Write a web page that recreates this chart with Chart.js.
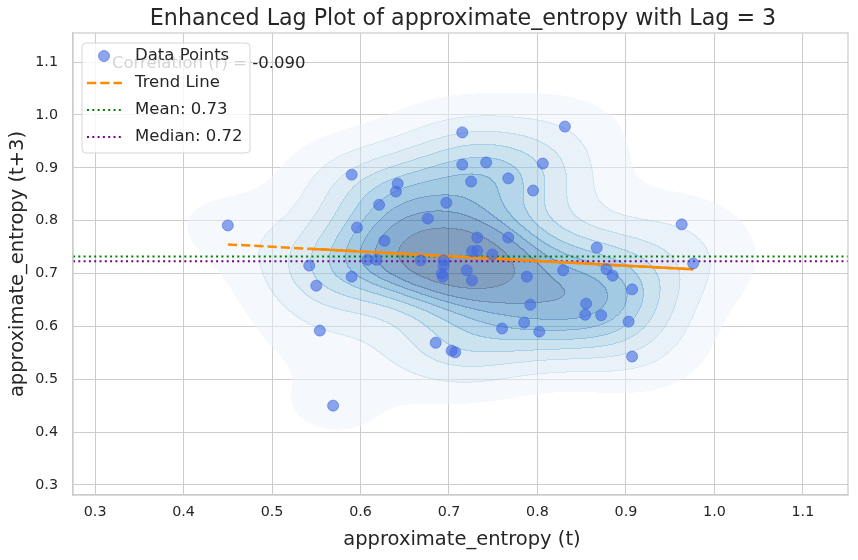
<!DOCTYPE html>
<html>
<head>
<meta charset="utf-8">
<script src="https://cdn.jsdelivr.net/npm/chart.js@4.4.0/dist/chart.umd.min.js"></script>
<style>html,body{margin:0;padding:0;background:#fff}</style>
</head>
<body>
<canvas id="lagChart" width="858" height="560"></canvas>
<script>
// values: x = value at t, y = value at t+3
const lagX = [0.450, 0.542, 0.550, 0.554, 0.569, 0.590, 0.596, 0.590, 0.608, 0.618,
              0.621, 0.627, 0.642, 0.640, 0.668, 0.676, 0.685, 0.692, 0.693, 0.694,
              0.694, 0.697, 0.703, 0.707, 0.715, 0.715, 0.720, 0.725, 0.726, 0.726,
              0.732, 0.732, 0.742, 0.749, 0.760, 0.767, 0.767, 0.785, 0.788, 0.792,
              0.795, 0.802, 0.806, 0.829, 0.831, 0.854, 0.855, 0.867, 0.872, 0.878,
              0.885, 0.903, 0.907, 0.907, 0.963, 0.976];
const lagY = [0.791, 0.715, 0.677, 0.592, 0.450, 0.887, 0.787, 0.694, 0.726, 0.726,
              0.830, 0.762, 0.870, 0.855, 0.725, 0.804, 0.569, 0.700, 0.694, 0.725,
              0.715, 0.834, 0.554, 0.551, 0.967, 0.906, 0.706, 0.874, 0.742, 0.687,
              0.743, 0.768, 0.910, 0.736, 0.596, 0.880, 0.768, 0.607, 0.694, 0.641,
              0.857, 0.590, 0.908, 0.706, 0.978, 0.622, 0.643, 0.749, 0.621, 0.708,
              0.696, 0.609, 0.670, 0.543, 0.793, 0.719];

const xTicks = [0.3, 0.4, 0.5, 0.6, 0.7, 0.8, 0.9, 1.0, 1.1];
const yTicks = [0.3, 0.4, 0.5, 0.6, 0.7, 0.8, 0.9, 1.0, 1.1];
const xRange = [0.275, 1.151];
const yRange = [0.281, 1.155];

const meanValue = 0.732;
const medianValue = 0.723;
const correlationText = 'Correlation (r) = -0.090';
const titleText = 'Enhanced Lag Plot of approximate_entropy with Lag = 3';
const xLabel = 'approximate_entropy (t)';
const yLabel = 'approximate_entropy (t+3)';
const legendLabels = ['Data Points', 'Trend Line', 'Mean: 0.73', 'Median: 0.72'];

const FONT = "'DejaVu Sans', sans-serif";
const TEXT = '#262626';
const GRID = '#cccccc';

// least squares trend
const n = lagX.length;
const mx = lagX.reduce((a, b) => a + b, 0) / n;
const my = lagY.reduce((a, b) => a + b, 0) / n;
let sxy = 0, sxx = 0, syy = 0;
for (let i = 0; i < n; i++) {
    sxy += (lagX[i] - mx) * (lagY[i] - my);
    sxx += (lagX[i] - mx) ** 2;
    syy += (lagY[i] - my) ** 2;
}
const slope = sxy / sxx;
const intercept = my - slope * mx;
const sortedX = [...lagX].sort((a, b) => a - b);
const trendAt = x => ({ x: x, y: intercept + slope * x });

// Blues colormap anchors
const blues = [[247,251,255],[222,235,247],[198,219,239],[158,202,225],[107,174,214],
               [66,146,198],[33,113,181],[8,81,156],[8,48,107]];
function bluesAt(t) {
    const p = Math.max(0, Math.min(1, t)) * (blues.length - 1);
    const i = Math.min(Math.floor(p), blues.length - 2), f = p - i;
    return blues[i].map((c, k) => c + (blues[i + 1][k] - c) * f);
}

// gaussian kde (scott) drawn as filled iso-proportion bands
const kdePlugin = {
    id: 'kde',
    beforeDatasetsDraw(chart) {
        const area = chart.chartArea, xs = chart.scales.x, ys = chart.scales.y;
        const left = Math.round(area.left), top = Math.round(area.top);
        const W = Math.round(area.right) - left, H = Math.round(area.bottom) - top;

        const f2 = Math.pow(n, -1 / 3);
        const cxx = sxx / (n - 1) * f2, cyy = syy / (n - 1) * f2, cxy = sxy / (n - 1) * f2;
        const det = cxx * cyy - cxy * cxy;
        const ixx = cyy / det, iyy = cxx / det, ixy = -cxy / det;

        const step = 2;
        const gw = Math.ceil(W / step) + 2, gh = Math.ceil(H / step) + 2;
        const dens = new Float64Array(gw * gh);
        for (let j = 0; j < gh; j++) {
            const vy = ys.getValueForPixel(top + j * step);
            for (let i = 0; i < gw; i++) {
                const vx = xs.getValueForPixel(left + i * step);
                let s = 0;
                for (let k = 0; k < n; k++) {
                    const dx = vx - lagX[k], dy = vy - lagY[k];
                    s += Math.exp(-0.5 * (ixx * dx * dx + 2 * ixy * dx * dy + iyy * dy * dy));
                }
                dens[j * gw + i] = s;
            }
        }
        const sorted = Array.from(dens).sort((a, b) => b - a);
        const total = sorted.reduce((a, b) => a + b, 0);
        const cum = [];
        let acc = 0;
        for (const v of sorted) { acc += v; cum.push(acc / total); }
        const levels = [];
        for (let l = 0; l < 10; l++) {
            const p = 0.05 + l * 0.95 / 9;
            let idx = cum.findIndex(c => c >= 1 - p);
            if (idx < 0) idx = sorted.length - 1;
            levels.push(sorted[idx]);
        }

        const off = document.createElement('canvas');
        off.width = W; off.height = H;
        const octx = off.getContext('2d');
        const img = octx.createImageData(W, H);
        const band = new Int8Array(W * H);
        for (let y = 0; y < H; y++) {
            const gy = y / step, j0 = Math.floor(gy), fy = gy - j0;
            for (let x = 0; x < W; x++) {
                const gx = x / step, i0 = Math.floor(gx), fx = gx - i0;
                const d = dens[j0 * gw + i0] * (1 - fx) * (1 - fy) + dens[j0 * gw + i0 + 1] * fx * (1 - fy) +
                          dens[(j0 + 1) * gw + i0] * (1 - fx) * fy + dens[(j0 + 1) * gw + i0 + 1] * fx * fy;
                let b = -1;
                for (let l = 0; l < 9; l++) if (d >= levels[l]) b = l;
                band[y * W + x] = b;
            }
        }
        for (let y = 0; y < H; y++) {
            for (let x = 0; x < W; x++) {
                const p = y * W + x;
                let b = band[p];
                let edge = false;
                if (x > 0 && band[p - 1] !== b) { edge = true; b = Math.max(b, band[p - 1]); }
                if (y > 0 && band[p - W] !== b) { edge = true; b = Math.max(b, band[p - W]); }
                if (b < 0) continue;
                const strong = edge && b > 0;
                const c = bluesAt((b + 0.5) / 9 + (strong ? 0.12 : 0));
                img.data[p * 4] = c[0];
                img.data[p * 4 + 1] = c[1];
                img.data[p * 4 + 2] = c[2];
                img.data[p * 4 + 3] = strong ? 150 : 128;
            }
        }
        octx.putImageData(img, 0, 0);
        chart.ctx.drawImage(off, left, top);
    }
};

// title, axis labels, spines, correlation note and legend box
const decorPlugin = {
    id: 'decor',
    afterDatasetsDraw(chart) {
        const ctx = chart.ctx, area = chart.chartArea;
        ctx.save();
        ctx.strokeStyle = GRID;
        ctx.lineWidth = 1.25;
        ctx.strokeRect(area.left, area.top, area.right - area.left, area.bottom - area.top);

        ctx.fillStyle = TEXT;
        ctx.textAlign = 'center';
        ctx.textBaseline = 'middle';
        ctx.font = '22.2px ' + FONT;
        ctx.fillText(titleText, 463, 19);
        ctx.font = '19.5px ' + FONT;
        ctx.fillText(xLabel, 462, 540);
        ctx.save();
        ctx.translate(18, (area.top + area.bottom) / 2);
        ctx.rotate(-Math.PI / 2);
        ctx.fillText(yLabel, 0, 0);
        ctx.restore();

        ctx.textAlign = 'left';
        ctx.font = '16.5px ' + FONT;
        ctx.fillText(correlationText, 112, 64);

        // legend
        const bx = 82, by = 43, bw = 168, bh = 110;
        ctx.beginPath();
        ctx.roundRect(bx, by, bw, bh, 4);
        ctx.fillStyle = 'rgba(255,255,255,0.8)';
        ctx.fill();
        ctx.strokeStyle = 'rgba(204,204,204,0.8)';
        ctx.lineWidth = 1;
        ctx.stroke();

        const rows = [56, 83, 110, 137];
        // marker
        ctx.beginPath();
        ctx.arc(104, rows[0], 5.5, 0, Math.PI * 2);
        ctx.fillStyle = 'rgba(65,105,225,0.6)';
        ctx.fill();
        ctx.strokeStyle = 'rgba(65,105,225,0.6)';
        ctx.stroke();
        // trend
        ctx.beginPath();
        ctx.setLineDash([9.25, 4]);
        ctx.strokeStyle = '#ff8c00';
        ctx.lineWidth = 2.5;
        ctx.moveTo(87, rows[1]); ctx.lineTo(122, rows[1]);
        ctx.stroke();
        // mean / median
        ctx.setLineDash([2, 3.3]);
        ctx.lineWidth = 2;
        ctx.strokeStyle = 'green';
        ctx.beginPath(); ctx.moveTo(87, rows[2]); ctx.lineTo(122, rows[2]); ctx.stroke();
        ctx.strokeStyle = 'purple';
        ctx.beginPath(); ctx.moveTo(87, rows[3]); ctx.lineTo(122, rows[3]); ctx.stroke();
        ctx.setLineDash([]);

        ctx.fillStyle = TEXT;
        ctx.font = '16.5px ' + FONT;
        legendLabels.forEach((t, i) => ctx.fillText(t, 135, rows[i]));
        ctx.restore();
    }
};

const axisTicks = (values) => (scale) => { scale.ticks = values.map(v => ({ value: v })); };

new Chart(document.getElementById('lagChart').getContext('2d'), {
    type: 'scatter',
    data: {
        datasets: [
            {
                label: 'Mean',
                type: 'line',
                data: [{ x: xRange[0], y: meanValue }, { x: xRange[1], y: meanValue }],
                borderColor: 'green',
                borderWidth: 2,
                borderDash: [2, 3.3],
                pointRadius: 0,
                order: 3
            },
            {
                label: 'Median',
                type: 'line',
                data: [{ x: xRange[0], y: medianValue }, { x: xRange[1], y: medianValue }],
                borderColor: 'purple',
                borderWidth: 2,
                borderDash: [2, 3.3],
                pointRadius: 0,
                order: 3
            },
            {
                label: 'Trend Line',
                type: 'line',
                data: [trendAt(sortedX[0]), trendAt(sortedX[n - 1])],
                borderColor: '#ff8c00',
                borderWidth: 2.5,
                borderDash: [9.25, 4],
                pointRadius: 0,
                order: 2
            },
            {
                label: 'Trend overlap',
                type: 'line',
                data: [trendAt(sortedX[1]), trendAt(sortedX[n - 1])],
                borderColor: '#ff8c00',
                borderWidth: 2.5,
                pointRadius: 0,
                order: 2
            },
            {
                label: 'Data Points',
                data: lagX.map((x, i) => ({ x: x, y: lagY[i] })),
                backgroundColor: 'rgba(65,105,225,0.6)',
                borderColor: 'rgba(65,105,225,0.6)',
                borderWidth: 1,
                pointRadius: 5.5,
                order: 1
            }
        ]
    },
    options: {
        responsive: false,
        animation: false,
        devicePixelRatio: 1,
        layout: { padding: { top: 33, right: 10, left: 0, bottom: 0 } },
        plugins: { legend: { display: false }, tooltip: { enabled: false } },
        scales: {
            x: {
                type: 'linear',
                min: xRange[0],
                max: xRange[1],
                afterBuildTicks: axisTicks(xTicks),
                afterFit: s => { s.height = 65; },
                grid: { color: GRID, lineWidth: 1, drawTicks: false },
                border: { color: GRID, width: 1.25 },
                ticks: { color: TEXT, font: { family: FONT, size: 14.3 }, padding: 9,
                         maxRotation: 0, callback: v => v.toFixed(1) }
            },
            y: {
                type: 'linear',
                min: yRange[0],
                max: yRange[1],
                afterBuildTicks: axisTicks(yTicks),
                afterFit: s => { s.width = 73; },
                grid: { color: GRID, lineWidth: 1, drawTicks: false },
                border: { color: GRID, width: 1.25 },
                ticks: { color: TEXT, font: { family: FONT, size: 14.3 }, padding: 15,
                         callback: v => v.toFixed(1) }
            }
        }
    },
    plugins: [kdePlugin, decorPlugin]
});
</script>
</body>
</html>
